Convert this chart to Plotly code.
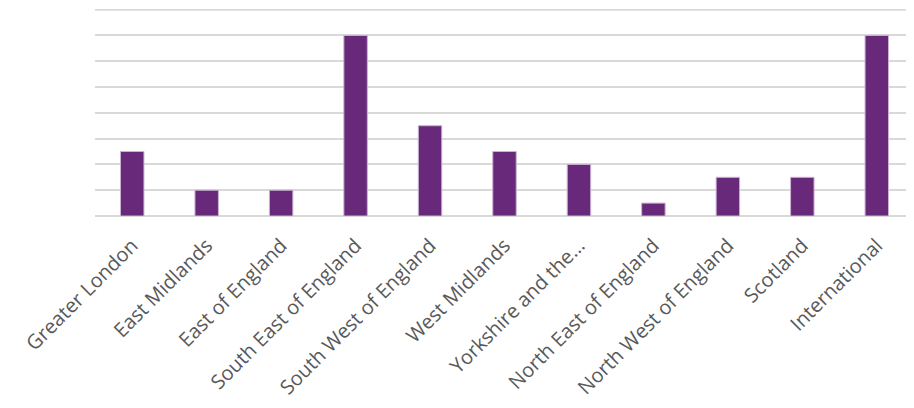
import plotly.graph_objects as go

categories = ["Greater London", "East Midlands", "East of England", "South East of England",
              "South West of England", "West Midlands", "Yorkshire and the…",
              "North East of England", "North West of England", "Scotland", "International"]
values = [5, 2, 2, 14, 7, 5, 4, 1, 3, 3, 14]

fig = go.Figure(go.Bar(
    x=categories, y=values,
    marker=dict(color="#68297A", line=dict(color="#C9B3D1", width=1)),
))

fig.update_layout(
    width=914, height=408,
    margin=dict(l=87, r=8, t=1, b=200),
    paper_bgcolor="white", plot_bgcolor="white",
    bargap=0.685,
    showlegend=False,
    font=dict(family="Open Sans", color="#595959"),
)
fig.add_shape(type="line", xref="paper", yref="y", x0=0, x1=1, y0=16, y1=16,
              line=dict(color="#D9D9D9", width=2), layer="below")
fig.update_xaxes(
    tickangle=-45, tickfont=dict(size=20, color="#595959", family="Open Sans"),
    showgrid=False, showline=False, ticks="outside", ticklen=9,
    tickcolor="rgba(0,0,0,0)", automargin=False,
)
fig.update_yaxes(
    range=[0, 16.05], dtick=2, showticklabels=False, automargin=False,
    showgrid=True, gridcolor="#D9D9D9", gridwidth=2,
    zeroline=True, zerolinecolor="#D9D9D9", zerolinewidth=2,
)

fig.write_html("out.html")
